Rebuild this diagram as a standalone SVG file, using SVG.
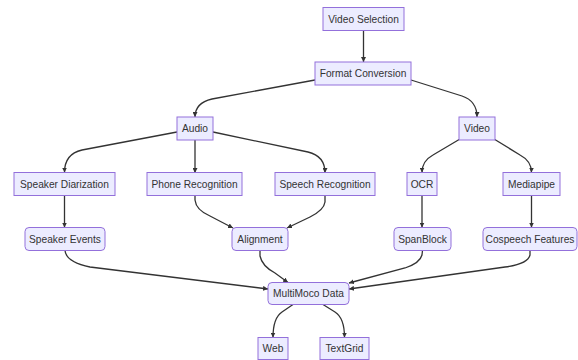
<svg xmlns="http://www.w3.org/2000/svg" width="578" height="360" viewBox="0 0 578 360">
<style>
.n rect{fill:#ECECFF;stroke:#9370DB;stroke-width:1}
.n text{font-family:"Liberation Sans",Arial,sans-serif;font-size:10.2px;fill:#333;text-anchor:middle;dominant-baseline:central}
.e path{fill:none;stroke:#333;stroke-width:1.3;marker-end:url(#arr)}
</style>
<defs>
<marker id="arr" viewBox="0 0 10 10" refX="10" refY="5" markerWidth="5" markerHeight="5" markerUnits="userSpaceOnUse" orient="auto">
<path d="M0,0 L10,5 L0,10 z" fill="#333"/>
</marker>
</defs>
<rect width="578" height="360" fill="#fff"/>
<g id="edges" class="e">
<path d="M363.5,30.5 L363.5,62"/>
<path d="M315,80 L212,99 Q195,103 195,117"/>
<path d="M411,80 L462,96 Q477,101 477,117"/>
<path d="M177,132 L82,150 Q64.5,154 64.5,172.5"/>
<path d="M195,140 L195,173"/>
<path d="M213,132 L308,152 Q325,156 325,173"/>
<path d="M64.5,195.5 L64.5,227.5"/>
<path d="M195,195.5 L195,200 Q196,210 210,216 L233,228"/>
<path d="M325,195.5 L325,202 Q324,210 310,217 L287,228"/>
<path d="M65,250.5 Q66,262 90,267 L268,289"/>
<path d="M260,250.5 L260,256 Q262,266 275,273 L288,282.5"/>
<path d="M422.5,250.5 L422,255 Q420,263 405,268 L349,283"/>
<path d="M530,250.5 L530,255 Q528,264 505,267 L349,289"/>
<path d="M293,304.5 L282,312 Q273,318 273,337.5"/>
<path d="M323,304.5 L335,312 Q344.5,318 344.5,337.5"/>
<path d="M460,139 L433,155 Q422,161 422,172.5"/>
<path d="M494,139 L520,155 Q531.5,161 531.5,172.5"/>
<path d="M422,195.5 L422,227.5"/>
<path d="M531.5,195.5 L531.5,227.5"/>
</g>
<g id="videoSelection" class="n"><rect x="323" y="7.5" width="81" height="23"/><text x="363.5" y="19">Video Selection</text></g>
<g id="formatConversion" class="n"><rect x="315" y="62" width="96" height="23"/><text x="363" y="73.5">Format Conversion</text></g>
<g id="audio" class="n"><rect x="177" y="117" width="36" height="23"/><text x="195" y="128.5">Audio</text></g>
<g id="video" class="n"><rect x="459" y="117" width="36" height="23"/><text x="477" y="128.5">Video</text></g>
<g id="speakerDiarization" class="n"><rect x="14" y="172.5" width="101" height="23"/><text x="64.5" y="184">Speaker Diarization</text></g>
<g id="phoneRecognition" class="n"><rect x="147" y="172.5" width="95" height="23"/><text x="194.5" y="184">Phone Recognition</text></g>
<g id="speechRecognition" class="n"><rect x="275" y="172.5" width="100" height="23"/><text x="325" y="184">Speech Recognition</text></g>
<g id="ocr" class="n"><rect x="407" y="172.5" width="30" height="23"/><text x="422" y="184">OCR</text></g>
<g id="mediapipe" class="n"><rect x="503" y="172.5" width="57" height="23"/><text x="531.5" y="184">Mediapipe</text></g>
<g id="speakerEvents" class="n"><rect x="25" y="227.5" width="80" height="23" rx="4"/><text x="65" y="239">Speaker Events</text></g>
<g id="alignment" class="n"><rect x="232" y="227.5" width="56" height="23" rx="4"/><text x="260" y="239">Alignment</text></g>
<g id="spanBlock" class="n"><rect x="394" y="227.5" width="57" height="23" rx="4"/><text x="422.5" y="239">SpanBlock</text></g>
<g id="cospeechFeatures" class="n"><rect x="483" y="227.5" width="94" height="23" rx="4"/><text x="530" y="239">Cospeech Features</text></g>
<g id="multiMocoData" class="n"><rect x="268" y="282.5" width="81" height="22" rx="4"/><text x="308.5" y="293.5">MultiMoco Data</text></g>
<g id="web" class="n"><rect x="258" y="337.5" width="30" height="22"/><text x="273" y="348.5">Web</text></g>
<g id="textGrid" class="n"><rect x="320" y="337.5" width="49" height="22"/><text x="344.5" y="348.5">TextGrid</text></g>
</svg>
